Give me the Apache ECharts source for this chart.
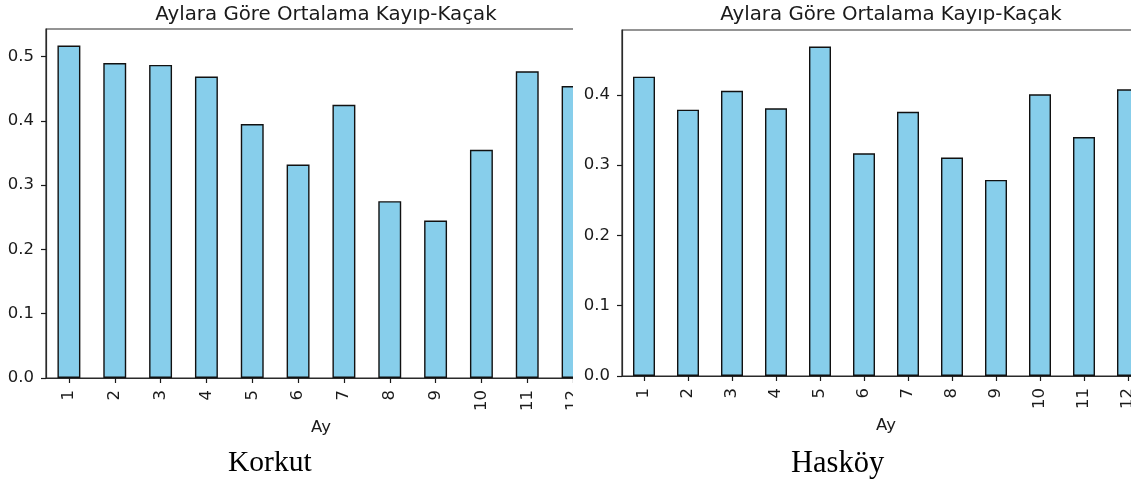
<!DOCTYPE html>
<html>
<head>
<meta charset="utf-8">
<script src="https://cdn.jsdelivr.net/npm/echarts@6/dist/echarts.min.js"></script>
<style>
  html, body { margin: 0; padding: 0; background: #fff; }
  #page { position: relative; width: 1143px; height: 485px; overflow: hidden; background: #fff; }
  .clip { position: absolute; top: 0; height: 485px; overflow: hidden; }
  .chart { position: absolute; left: 0; top: 0; height: 485px; }
</style>
</head>
<body>
<div id="page">
  <div class="clip" style="left:0;width:573px;"><div id="c1" class="chart" style="width:620px;"></div></div>
  <div class="clip" style="left:573px;width:558px;"><div id="c2" class="chart" style="width:600px;"></div></div>
</div>
<script>
// ---- data ----
const months = ['1','2','3','4','5','6','7','8','9','10','11','12'];
const korkutValues = [0.517, 0.490, 0.487, 0.469, 0.395, 0.332, 0.425, 0.275, 0.245, 0.355, 0.477, 0.454];
const haskoyValues = [0.426, 0.379, 0.406, 0.381, 0.469, 0.317, 0.376, 0.311, 0.279, 0.401, 0.340, 0.408];
const korkutTicks = [0.0, 0.1, 0.2, 0.3, 0.4, 0.5];
const haskoyTicks = [0.0, 0.1, 0.2, 0.3, 0.4];
const chartTitle = 'Aylara Göre Ortalama Kayıp-Kaçak';
const xName = 'Ay';
const korkutCaption = 'Korkut';
const haskoyCaption = 'Hasköy';

const INK = '#1a1a1a';
const SANS = 'DejaVu Sans';

function makeOption(values, ticks, caption, g, captionX, captionSize) {
  const ymax = Math.max.apply(null, values) * 1.05;
  const centerX = g.left + g.width / 2;
  return {
    animation: false,
    backgroundColor: '#fff',
    title: {
      text: chartTitle,
      left: centerX, top: 0, textAlign: 'center',
      textStyle: { fontFamily: SANS, fontSize: 19.8, fontWeight: 'normal', color: INK }
    },
    grid: {
      left: g.left, top: g.top, width: g.width, height: g.height,
      show: true, borderColor: '#2a2a2a', borderWidth: 1.2, containLabel: false
    },
    xAxis: {
      type: 'category', data: months,
      name: xName, nameLocation: 'middle', nameGap: 38,
      nameTextStyle: { fontFamily: SANS, fontSize: 16.5, color: INK },
      axisLine: { show: true, lineStyle: { color: '#2a2a2a', width: 1.2 } },
      axisTick: { show: true, alignWithLabel: true, length: 5, lineStyle: { color: INK, width: 1.2 } },
      axisLabel: { rotate: 90, margin: 12, fontFamily: SANS, fontSize: 16.5, color: INK, interval: 0 },
      splitLine: { show: false }
    },
    yAxis: {
      type: 'value', min: 0, max: ymax,
      axisLine: { show: true, lineStyle: { color: '#2a2a2a', width: 1.2 } },
      axisTick: { show: true, length: 5, lineStyle: { color: INK, width: 1.2 }, customValues: ticks },
      axisLabel: { margin: 12, fontFamily: SANS, fontSize: 16.5, color: INK,
                   customValues: ticks, formatter: v => v.toFixed(1) },
      splitLine: { show: false }
    },
    graphic: [{
      type: 'text', left: captionX, top: 448,
      style: { text: caption, font: captionSize + 'px "Liberation Serif"', fill: '#000', textAlign: 'center' }
    }],
    series: [{
      type: 'bar', data: values, barWidth: '50%',
      itemStyle: { color: '#87CEEB', borderColor: '#111', borderWidth: 1.4 }
    }]
  };
}

const c1 = echarts.init(document.getElementById('c1'));
c1.setOption(makeOption(korkutValues, korkutTicks, korkutCaption,
  { left: 46, top: 29, width: 550, height: 349 }, 228, 29.5));

const c2 = echarts.init(document.getElementById('c2'));
c2.setOption(makeOption(haskoyValues, haskoyTicks, haskoyCaption,
  { left: 49, top: 30, width: 528, height: 346 }, 218, 30.5));
</script>
</body>
</html>
